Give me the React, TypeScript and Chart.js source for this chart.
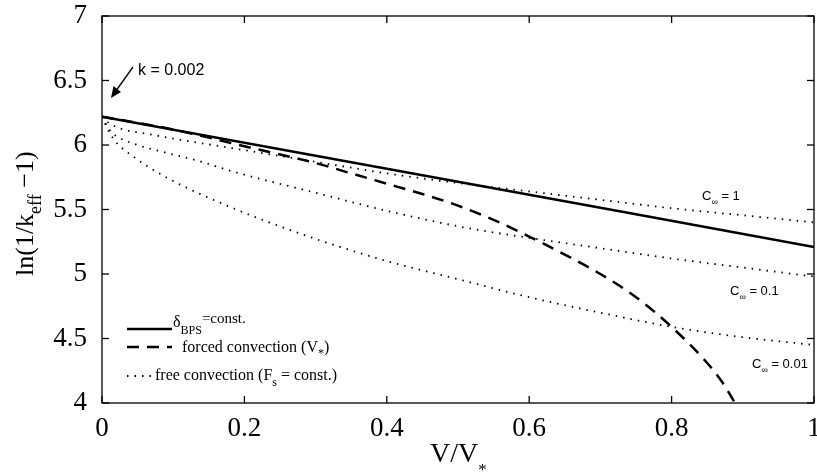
import React, { useEffect, useRef } from "react";
import { Chart, registerables } from "chart.js";
Chart.register(...registerables);

const xTickValues = [0, 0.2, 0.4, 0.6, 0.8, 1];
const yTickValues = [4, 4.5, 5, 5.5, 6, 6.5, 7];

// delta_BPS = const.
const bpsX = [0, 0.5, 1];
const bpsY = [6.22, 5.715, 5.21];

// forced convection (V*)
const forcedX = [0, 0.1, 0.2, 0.3, 0.35, 0.4, 0.45, 0.5, 0.55, 0.6, 0.65, 0.7, 0.75, 0.8, 0.85, 0.87, 0.89, 0.91];
const forcedY = [6.22, 6.12, 5.99, 5.86, 5.78, 5.7, 5.62, 5.53, 5.42, 5.29, 5.15, 5.0, 4.82, 4.59, 4.31, 4.17, 3.99, 3.78];

// free convection, C∞ = 1
const c1X = [0, 0.01, 0.03, 0.06, 0.1, 0.2, 0.3, 0.4, 0.5, 0.6, 0.7, 0.8, 0.9, 1];
const c1Y = [6.22, 6.17, 6.12, 6.09, 6.05, 5.96, 5.87, 5.78, 5.705, 5.64, 5.575, 5.51, 5.455, 5.4];

// free convection, C∞ = 0.1
const c01X = [0, 0.01, 0.02, 0.05, 0.09, 0.14, 0.18, 0.3, 0.4, 0.5, 0.6, 0.7, 0.8, 0.9, 1];
const c01Y = [6.22, 6.12, 6.07, 6.0, 5.94, 5.87, 5.8, 5.63, 5.49, 5.37, 5.28, 5.2, 5.12, 5.05, 4.98];

// free convection, C∞ = 0.01
const c001X = [0, 0.01, 0.02, 0.044, 0.09, 0.18, 0.28, 0.34, 0.4, 0.5, 0.6, 0.7, 0.8, 0.9, 1];
const c001Y = [6.22, 6.1, 6.02, 5.91, 5.75, 5.52, 5.31, 5.2, 5.1, 4.96, 4.82, 4.7, 4.59, 4.51, 4.45];

const pts = (xs: number[], ys: number[]) => xs.map((x, i) => ({ x, y: ys[i] }));

const SERIF = "'Liberation Serif', 'DejaVu Serif', serif";
const SANS = "'Liberation Sans', Arial, sans-serif";

type Part = [string, number, number, string?];
function drawRich(ctx: CanvasRenderingContext2D, x: number, y: number, parts: Part[]) {
  let cx = x;
  for (const [t, size, dy, fam] of parts) {
    ctx.font = `${size}px ${fam || SERIF}`;
    ctx.fillText(t, cx, y + dy);
    cx += ctx.measureText(t).width;
  }
}

export default function App() {
  const ref = useRef<HTMLCanvasElement>(null);
  useEffect(() => {
    document.body.style.margin = "0";
    const ctx = ref.current!.getContext("2d")!;
    const deco = {
      id: "deco",
      afterDraw(chart: any) {
        const c: CanvasRenderingContext2D = chart.ctx;
        const { left, right, top, bottom } = chart.chartArea;
        const xs = chart.scales.x;
        const ys = chart.scales.y;
        c.save();
        c.strokeStyle = "#000";
        c.fillStyle = "#000";
        c.lineWidth = 1.3;
        c.setLineDash([]);
        c.strokeRect(left, top, right - left, bottom - top);
        const tl = 7;
        const line = (a: number, b: number, d: number, e: number) => {
          c.beginPath();
          c.moveTo(a, b);
          c.lineTo(d, e);
          c.stroke();
        };
        xTickValues.forEach((v) => {
          const px = xs.getPixelForValue(v);
          line(px, bottom, px, bottom - tl);
          line(px, top, px, top + tl);
        });
        yTickValues.forEach((v) => {
          const py = ys.getPixelForValue(v);
          line(left, py, left + tl, py);
          line(right, py, right - tl, py);
        });

        // legend
        c.lineWidth = 2.5;
        line(127, 329, 172, 329);
        c.setLineDash([12, 8]);
        line(127, 347, 172, 347);
        c.lineWidth = 1.8;
        c.setLineDash([1.5, 6]);
        line(127, 376, 152, 376);
        c.setLineDash([]);
        c.textAlign = "left";
        c.textBaseline = "alphabetic";
        drawRich(c, 173, 327, [["δ", 16, 0], ["BPS", 12, 7], ["=const.", 15, -4]]);
        drawRich(c, 182, 352, [["forced convection (V", 16, 0], ["*", 12, 5], [")", 16, 0]]);
        drawRich(c, 155, 380, [["free convection (F", 16, 0], ["s", 12, 6], [" = const.)", 16, 0]]);

        // annotation k = 0.002
        c.font = `16px ${SANS}`;
        c.fillText("k = 0.002", 138, 75);
        c.lineWidth = 1.3;
        line(133, 67, 113, 95);
        c.beginPath();
        c.moveTo(111, 98);
        c.lineTo(113.5, 86);
        c.lineTo(121, 92);
        c.closePath();
        c.fill();

        // C∞ labels
        drawRich(c, 702, 200, [["C", 13, 0, SANS], ["∞", 9, 5, SANS], [" = 1", 13, 0, SANS]]);
        drawRich(c, 730, 295, [["C", 13, 0, SANS], ["∞", 9, 5, SANS], [" = 0.1", 13, 0, SANS]]);
        drawRich(c, 752, 368, [["C", 13, 0, SANS], ["∞", 9, 5, SANS], [" = 0.01", 13, 0, SANS]]);

        // x title
        drawRich(c, 430, 462, [["V/V", 28, 0], ["*", 17, 13]]);

        // y title
        c.translate(33, 276);
        c.rotate(-Math.PI / 2);
        drawRich(c, 0, 0, [["ln(1/k", 26, 0], ["eff", 18, 8], [" \u22121)", 26, 0]]);
        c.restore();
      },
    };
    const chart = new Chart(ctx, {
      type: "line",
      data: {
        datasets: [
          { data: pts(bpsX, bpsY), borderWidth: 2.5 },
          { data: pts(forcedX, forcedY), borderWidth: 2.5, borderDash: [12, 8] },
          { data: pts(c1X, c1Y), borderWidth: 1.8, borderDash: [1.5, 6] },
          { data: pts(c01X, c01Y), borderWidth: 1.8, borderDash: [1.5, 6] },
          { data: pts(c001X, c001Y), borderWidth: 1.8, borderDash: [1.5, 6] },
        ].map((d) => ({
          ...d,
          borderColor: "#000",
          backgroundColor: "#000",
          pointRadius: 0,
          fill: false,
          cubicInterpolationMode: "monotone" as const,
        })),
      },
      options: {
        animation: false,
        responsive: false,
        layout: { padding: { left: 0, top: 16, right: 3, bottom: 0 } },
        plugins: { legend: { display: false }, tooltip: { enabled: false } },
        scales: {
          x: {
            type: "linear",
            min: 0,
            max: 1,
            grid: { display: false },
            border: { display: false },
            afterBuildTicks: (s: any) => {
              s.ticks = xTickValues.map((v) => ({ value: v }));
            },
            afterFit: (s: any) => {
              s.height = 72;
              s.paddingLeft = 0;
              s.paddingRight = 0;
            },
            ticks: {
              color: "#000",
              font: { family: SERIF, size: 27 },
              padding: 2,
              maxRotation: 0,
              autoSkip: false,
              callback: (v: any) => String(Math.round(Number(v) * 10) / 10),
            },
          },
          y: {
            type: "linear",
            min: 4,
            max: 7,
            grid: { display: false },
            border: { display: false },
            afterBuildTicks: (s: any) => {
              s.ticks = yTickValues.map((v) => ({ value: v }));
            },
            afterFit: (s: any) => {
              s.width = 102;
              s.paddingTop = 0;
              s.paddingBottom = 0;
            },
            ticks: {
              color: "#000",
              font: { family: SERIF, size: 27 },
              padding: 7,
              autoSkip: false,
              callback: (v: any) => String(Math.round(Number(v) * 10) / 10),
            },
          },
        },
      },
      plugins: [deco],
    });
    return () => chart.destroy();
  }, []);
  return (
    <div style={{ width: 817, height: 475 }}>
      <canvas ref={ref} width={817} height={475} style={{ display: "block" }} />
    </div>
  );
}
